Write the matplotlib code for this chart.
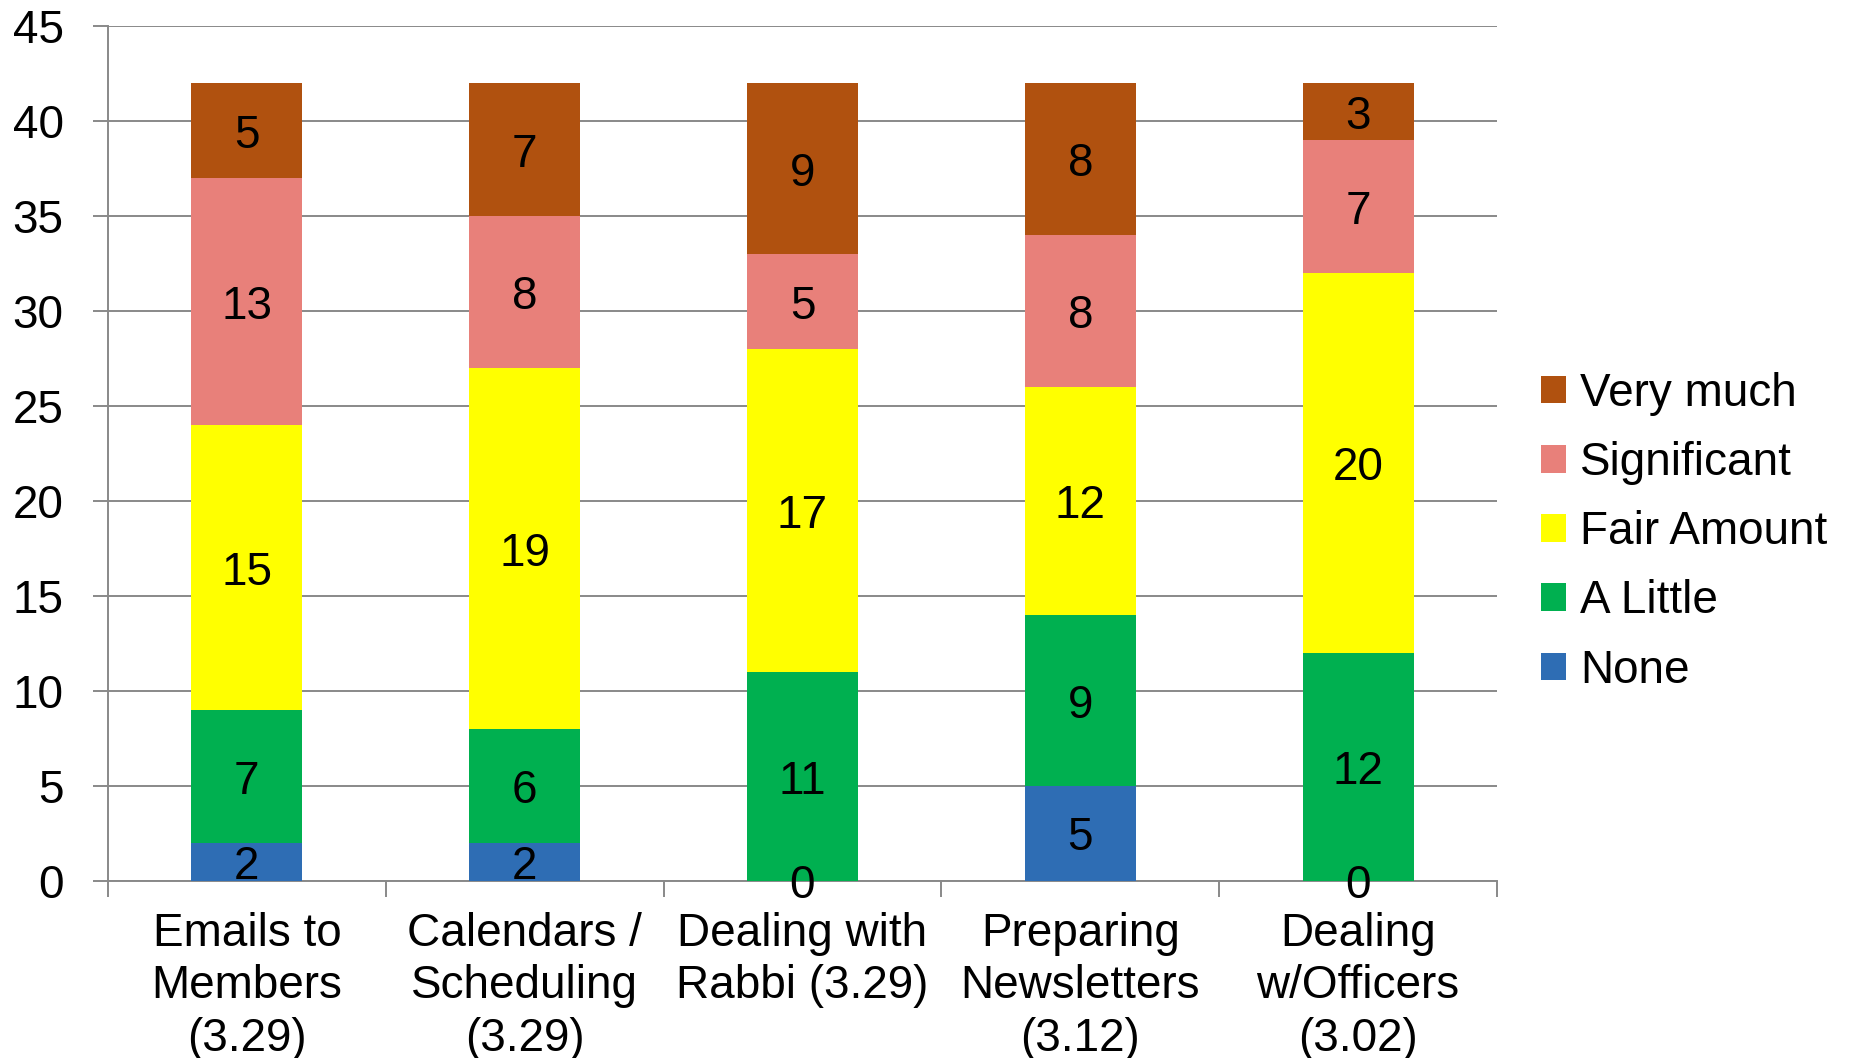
#!/usr/bin/env python3
"""Stacked bar chart of how much each admin task takes up, by response level."""

import matplotlib

matplotlib.use("Agg")
import matplotlib.pyplot as plt
import numpy as np
from matplotlib.patches import Patch

plt.rcParams["font.family"] = ["Liberation Sans", "DejaVu Sans"]

categories = [
    "Emails to\nMembers\n(3.29)",
    "Calendars /\nScheduling\n(3.29)",
    "Dealing with\nRabbi (3.29)",
    "Preparing\nNewsletters\n(3.12)",
    "Dealing\nw/Officers\n(3.02)",
]
levels = ["None", "A Little", "Fair Amount", "Significant", "Very much"]
none_vals = [2, 2, 0, 5, 0]
little_vals = [7, 6, 11, 9, 12]
fair_vals = [15, 19, 17, 12, 20]
significant_vals = [13, 8, 5, 8, 7]
very_much_vals = [5, 7, 9, 8, 3]
colors = ["#2E6DB4", "#00B050", "#FFFF00", "#E8807A", "#B0510F"]

FS = 33
GRID = "#898989"


def main() -> None:
    fig = plt.figure(figsize=(18.58, 10.58), dpi=100)
    ax = fig.add_axes([0.0581, 0.1673, 0.7476, 0.8081])

    x = np.arange(len(categories))
    series = [none_vals, little_vals, fair_vals, significant_vals, very_much_vals]
    bottom = np.zeros(len(categories))
    for name, vals, color in zip(levels, series, colors):
        vals = np.array(vals)
        ax.bar(x, vals, width=0.4, bottom=bottom, color=color, label=name, zorder=3)
        # value label in the middle of each segment
        for xi, b, v in zip(x, bottom, vals):
            ax.text(xi, b + v / 2, str(v), ha="center", va="center_baseline",
                    fontsize=FS, color="black", zorder=4)
        bottom += vals

    ax.set_xlim(-0.5, len(categories) - 0.5)
    ax.set_ylim(0, 45)
    ax.set_yticks(np.arange(0, 46, 5))
    ax.yaxis.grid(True, color=GRID, linewidth=1.4, zorder=0)
    ax.set_axisbelow(True)

    for side in ("top", "right"):
        ax.spines[side].set_visible(False)
    for side in ("left", "bottom"):
        ax.spines[side].set_color(GRID)
        ax.spines[side].set_linewidth(1.4)

    ax.tick_params(axis="y", length=11, width=1.4, color=GRID, pad=21, labelsize=FS)
    ax.set_xticks(x)
    ax.set_xticklabels(categories, fontsize=FS, linespacing=1.26)
    ax.tick_params(axis="x", which="major", length=0, pad=22)
    ax.set_xticks(np.arange(-0.5, len(categories)), minor=True)
    ax.tick_params(axis="x", which="minor", length=11.5, width=1.4, color=GRID)

    handles = [Patch(facecolor=c, label=n) for n, c in zip(levels, colors)]
    fig.legend(handles=handles[::-1], loc="center left", bbox_to_anchor=(0.817, 0.497),
               frameon=False, fontsize=FS, handlelength=0.55, handleheight=0.55,
               handletextpad=0.3, labelspacing=0.55, borderpad=0)

    fig.savefig("out.png", dpi=100)
    plt.close(fig)


if __name__ == "__main__":
    main()
